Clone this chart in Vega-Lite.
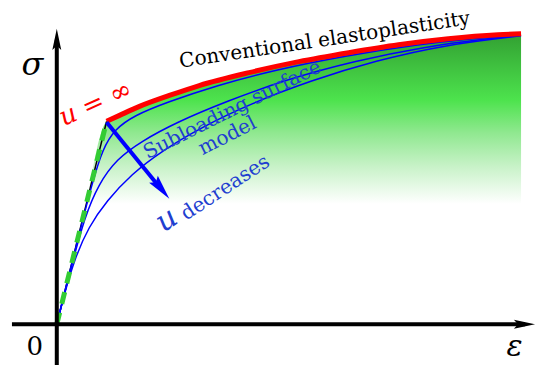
{
  "$schema": "https://vega.github.io/schema/vega-lite/v6.json",
  "width": 536,
  "height": 367,
  "autosize": {"type": "fit", "contains": "padding"},
  "padding": 0,
  "config": {"view": {"stroke": null}, "text": {"font": "DejaVu Serif"}},
  "datasets": {
    "red": [
      {"e": 50, "s": 204}, {"e": 63, "s": 210}, {"e": 83, "s": 219}, {"e": 113, "s": 230},
      {"e": 143, "s": 240}, {"e": 193, "s": 253}, {"e": 243, "s": 264}, {"e": 293, "s": 273},
      {"e": 343, "s": 281}, {"e": 393, "s": 287}, {"e": 443, "s": 291}, {"e": 466, "s": 292}
    ],
    "fill": [
      {"e": 29.7, "s": 121}, {"e": 50, "s": 204}, {"e": 63, "s": 210}, {"e": 83, "s": 219}, {"e": 113, "s": 230},
      {"e": 143, "s": 240}, {"e": 193, "s": 253}, {"e": 243, "s": 264}, {"e": 293, "s": 273},
      {"e": 343, "s": 281}, {"e": 393, "s": 287}, {"e": 443, "s": 291}, {"e": 466, "s": 292}
    ],
    "blue": [
      {"c": "A", "e": 0, "s": 0}, {"c": "A", "e": 20, "s": 81}, {"c": "A", "e": 36, "s": 144}, {"c": "A", "e": 46, "s": 176},
      {"c": "A", "e": 58, "s": 196}, {"c": "A", "e": 78, "s": 210}, {"c": "A", "e": 110, "s": 223}, {"c": "A", "e": 160, "s": 240},
      {"c": "A", "e": 220, "s": 256}, {"c": "A", "e": 290, "s": 270}, {"c": "A", "e": 360, "s": 281}, {"c": "A", "e": 420, "s": 287.5},
      {"c": "A", "e": 466, "s": 291},
      {"c": "B", "e": 0, "s": 0}, {"c": "B", "e": 14, "s": 56}, {"c": "B", "e": 28, "s": 108}, {"c": "B", "e": 42, "s": 141},
      {"c": "B", "e": 60, "s": 166}, {"c": "B", "e": 85, "s": 184}, {"c": "B", "e": 120, "s": 203}, {"c": "B", "e": 170, "s": 224},
      {"c": "B", "e": 230, "s": 246}, {"c": "B", "e": 300, "s": 265}, {"c": "B", "e": 370, "s": 279}, {"c": "B", "e": 430, "s": 287},
      {"c": "B", "e": 466, "s": 290.5},
      {"c": "C", "e": 0, "s": 0}, {"c": "C", "e": 8, "s": 32}, {"c": "C", "e": 18, "s": 66}, {"c": "C", "e": 32, "s": 98},
      {"c": "C", "e": 50, "s": 124}, {"c": "C", "e": 75, "s": 151}, {"c": "C", "e": 105, "s": 174}, {"c": "C", "e": 145, "s": 198},
      {"c": "C", "e": 195, "s": 222}, {"c": "C", "e": 255, "s": 245}, {"c": "C", "e": 320, "s": 265}, {"c": "C", "e": 390, "s": 281},
      {"c": "C", "e": 466, "s": 290}
    ],
    "elastic": [{"e": 0, "s": 0}, {"e": 50, "s": 204}]
  },
  "layer": [
    {
      "data": {"name": "fill"},
      "mark": {
        "type": "area",
        "interpolate": "monotone",
        "color": {
          "gradient": "linear", "x1": 0, "y1": 0, "x2": 0, "y2": 1,
          "stops": [
            {"offset": 0, "color": "#32a032"},
            {"offset": 0.39, "color": "#4de34d"},
            {"offset": 0.58, "color": "#8fe88f"},
            {"offset": 0.78, "color": "#c8f2c8"},
            {"offset": 1, "color": "#ffffff"}
          ]
        }
      },
      "encoding": {
        "x": {"field": "e", "type": "quantitative", "scale": {"domain": [-57, 479], "nice": false, "zero": false}, "axis": null},
        "y": {"field": "s", "type": "quantitative", "scale": {"domain": [-41, 326], "nice": false, "zero": false}, "axis": null},
        "y2": {"datum": 121}
      }
    },
    {
      "data": {"name": "elastic"},
      "mark": {"type": "line", "color": "black", "strokeWidth": 1.5},
      "encoding": {
        "x": {"field": "e", "type": "quantitative"},
        "y": {"field": "s", "type": "quantitative"}
      }
    },
    {
      "data": {"name": "blue"},
      "mark": {"type": "line", "color": "#0000ff", "strokeWidth": 1.5, "interpolate": "basis"},
      "encoding": {
        "x": {"field": "e", "type": "quantitative"},
        "y": {"field": "s", "type": "quantitative"},
        "detail": {"field": "c"}
      }
    },
    {
      "data": {"name": "elastic"},
      "mark": {"type": "line", "color": "#33cc33", "strokeWidth": 5, "strokeDash": [12, 9], "strokeCap": "butt"},
      "encoding": {
        "x": {"field": "e", "type": "quantitative"},
        "y": {"field": "s", "type": "quantitative"}
      }
    },
    {
      "data": {"name": "red"},
      "mark": {"type": "line", "color": "#ff0000", "strokeWidth": 5, "interpolate": "monotone", "strokeCap": "butt"},
      "encoding": {
        "x": {"field": "e", "type": "quantitative"},
        "y": {"field": "s", "type": "quantitative"}
      }
    },
    {
      "data": {"values": [{"e": -45, "e2": 470, "s": 0}]},
      "mark": {"type": "rule", "color": "black", "strokeWidth": 4},
      "encoding": {
        "x": {"field": "e", "type": "quantitative"},
        "x2": {"field": "e2"},
        "y": {"field": "s", "type": "quantitative"}
      }
    },
    {
      "data": {"values": [{"e": 0, "s": -41, "s2": 286}]},
      "mark": {"type": "rule", "color": "black", "strokeWidth": 4},
      "encoding": {
        "x": {"field": "e", "type": "quantitative"},
        "y": {"field": "s", "type": "quantitative"},
        "y2": {"field": "s2"}
      }
    },
    {
      "data": {"values": [{"e": 0, "s": 286.4}]},
      "mark": {"type": "point", "shape": "M0,-1L0.42,1L0,0.6L-0.42,1Z", "size": 450, "filled": true, "color": "black", "opacity": 1},
      "encoding": {
        "x": {"field": "e", "type": "quantitative"},
        "y": {"field": "s", "type": "quantitative"}
      }
    },
    {
      "data": {"values": [{"e": 469.4, "s": 0}]},
      "mark": {"type": "point", "shape": "M1,0L-1,0.42L-0.6,0L-1,-0.42Z", "size": 450, "filled": true, "color": "black", "opacity": 1},
      "encoding": {
        "x": {"field": "e", "type": "quantitative"},
        "y": {"field": "s", "type": "quantitative"}
      }
    },
    {
      "data": {"values": [{"e": 50, "s": 203, "e2": 103, "s2": 138}]},
      "mark": {"type": "rule", "color": "#0000ff", "strokeWidth": 4},
      "encoding": {
        "x": {"field": "e", "type": "quantitative"},
        "y": {"field": "s", "type": "quantitative"},
        "x2": {"field": "e2"},
        "y2": {"field": "s2"}
      }
    },
    {
      "data": {"values": [{"e": 105, "s": 136}]},
      "mark": {"type": "point", "shape": "M0,-1L0.45,1L0,0.7L-0.45,1Z", "size": 625, "filled": true, "color": "#0000ff", "opacity": 1, "angle": 140.7},
      "encoding": {
        "x": {"field": "e", "type": "quantitative"},
        "y": {"field": "s", "type": "quantitative"}
      }
    },
    {
      "data": {"values": [{"e": -24.5, "s": 251, "t": "σ"}]},
      "mark": {"type": "text", "fontStyle": "italic", "fontSize": 32, "align": "center", "baseline": "alphabetic", "color": "black"},
      "encoding": {
        "x": {"field": "e", "type": "quantitative"},
        "y": {"field": "s", "type": "quantitative"},
        "text": {"field": "t"}
      }
    },
    {
      "data": {"values": [{"e": 459.5, "s": -32, "t": "ε"}]},
      "mark": {"type": "text", "fontStyle": "italic", "fontSize": 30, "align": "center", "baseline": "alphabetic", "color": "black"},
      "encoding": {
        "x": {"field": "e", "type": "quantitative"},
        "y": {"field": "s", "type": "quantitative"},
        "text": {"field": "t"}
      }
    },
    {
      "data": {"values": [{"e": -22, "s": -31, "t": "0"}]},
      "mark": {"type": "text", "fontSize": 26, "align": "center", "baseline": "alphabetic", "color": "black"},
      "encoding": {
        "x": {"field": "e", "type": "quantitative"},
        "y": {"field": "s", "type": "quantitative"},
        "text": {"field": "t"}
      }
    },
    {
      "data": {"values": [{"e": 124, "s": 258, "t": "Conventional elastoplasticity"}]},
      "mark": {"type": "text", "fontSize": 20, "align": "left", "baseline": "alphabetic", "color": "black", "angle": -8.5},
      "encoding": {
        "x": {"field": "e", "type": "quantitative"},
        "y": {"field": "s", "type": "quantitative"},
        "text": {"field": "t"}
      }
    },
    {
      "data": {"values": [{"e": 7, "s": 199, "t": "u = ∞"}]},
      "mark": {"type": "text", "fontStyle": "italic", "fontSize": 26, "align": "left", "baseline": "alphabetic", "color": "#ff0000", "angle": -24},
      "encoding": {
        "x": {"field": "e", "type": "quantitative"},
        "y": {"field": "s", "type": "quantitative"},
        "text": {"field": "t"}
      }
    },
    {
      "data": {"values": [{"e": 91, "s": 166, "t": "Subloading surface"}]},
      "mark": {"type": "text", "fontSize": 20, "align": "left", "baseline": "alphabetic", "color": "#1f3fd0", "angle": -26.7},
      "encoding": {
        "x": {"field": "e", "type": "quantitative"},
        "y": {"field": "s", "type": "quantitative"},
        "text": {"field": "t"}
      }
    },
    {
      "data": {"values": [{"e": 174, "s": 184, "t": "model"}]},
      "mark": {"type": "text", "fontSize": 20, "align": "center", "baseline": "alphabetic", "color": "#1f3fd0", "angle": -27},
      "encoding": {
        "x": {"field": "e", "type": "quantitative"},
        "y": {"field": "s", "type": "quantitative"},
        "text": {"field": "t"}
      }
    },
    {
      "data": {"values": [{"e": 107, "s": 92, "t": "u"}]},
      "mark": {"type": "text", "fontStyle": "italic", "fontSize": 30, "align": "left", "baseline": "alphabetic", "color": "#1f3fd0", "angle": -33.5},
      "encoding": {
        "x": {"field": "e", "type": "quantitative"},
        "y": {"field": "s", "type": "quantitative"},
        "text": {"field": "t"}
      }
    },
    {
      "data": {"values": [{"e": 130, "s": 104, "t": "decreases"}]},
      "mark": {"type": "text", "fontSize": 20, "align": "left", "baseline": "alphabetic", "color": "#1f3fd0", "angle": -33.5},
      "encoding": {
        "x": {"field": "e", "type": "quantitative"},
        "y": {"field": "s", "type": "quantitative"},
        "text": {"field": "t"}
      }
    }
  ]
}
